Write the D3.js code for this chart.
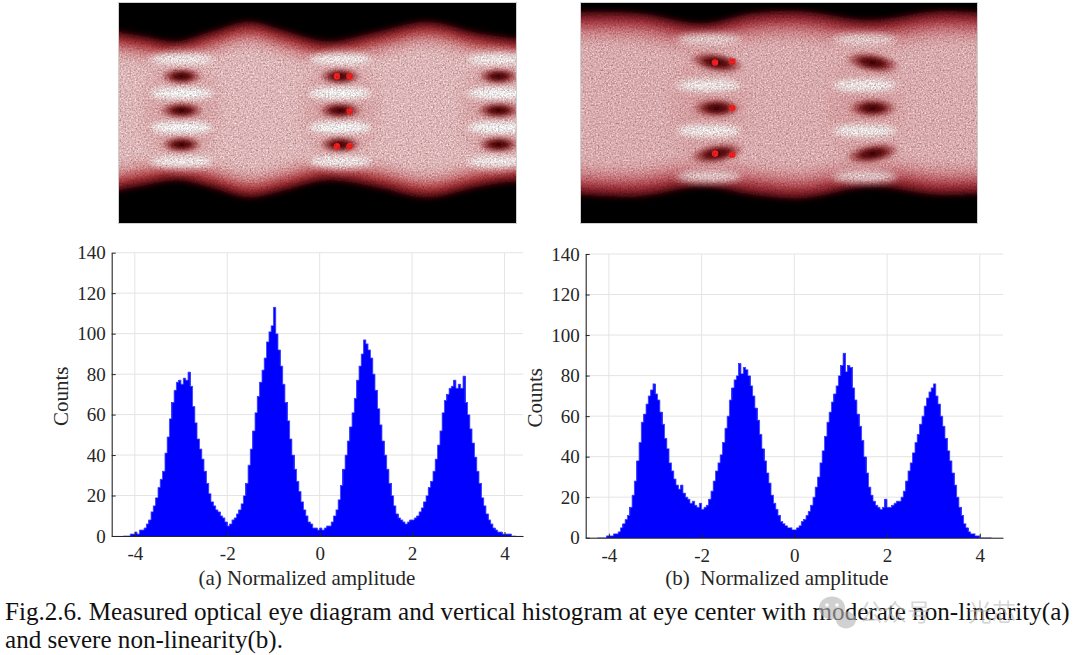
<!DOCTYPE html>
<html>
<head>
<meta charset="utf-8">
<script src="https://cdn.jsdelivr.net/npm/d3@7/dist/d3.min.js"></script>
<style>
  body { margin: 0; background: #fff; }
  svg { display: block; }
  .serif, .tick text { font-family: "Liberation Serif", "Times New Roman", serif; }
</style>
</head>
<body>
<svg id="fig" width="1080" height="655"></svg>
<script>
// histogram bins (normalized amplitude)
var binStart = -4.25,
    binWidth = 0.05;

// counts per bin, panel (a) moderate non-linearity
var countsA = [
  0, 0, 0, 1, 1, 2, 1, 3, 3, 4,
  6, 8, 12, 15, 19, 24, 28, 32, 41, 49,
  58, 66, 72, 76, 77, 75, 78, 77, 81, 74,
  64, 56, 48, 43, 38, 32, 26, 21, 17, 15,
  13, 12, 10, 9, 7, 5, 6, 8, 9, 11,
  13, 16, 20, 26, 35, 43, 52, 61, 69, 76,
  82, 88, 96, 101, 104, 113, 100, 92, 84, 75,
  66, 57, 48, 40, 33, 27, 22, 17, 13, 10,
  7, 6, 4, 4, 3, 4, 3, 4, 5, 5,
  7, 10, 13, 18, 25, 33, 40, 47, 54, 61,
  68, 77, 84, 90, 97, 95, 92, 88, 80, 72,
  63, 55, 47, 40, 33, 26, 20, 15, 11, 9,
  8, 7, 6, 7, 8, 8, 9, 10, 12, 14,
  17, 20, 24, 27, 32, 38, 45, 52, 61, 67,
  70, 73, 74, 77, 73, 75, 73, 79, 66, 60,
  53, 46, 39, 32, 26, 19, 15, 11, 8, 6,
  4, 3, 2, 2, 1, 1, 1, 1, 0, 0
];

// counts per bin, panel (b) severe non-linearity
var countsB = [
  0, 0, 0, 0, 1, 1, 1, 2, 2, 3,
  5, 7, 9, 11, 15, 21, 28, 38, 47, 57,
  61, 66, 70, 73, 76, 71, 68, 62, 56, 49,
  44, 37, 33, 29, 26, 24, 26, 22, 20, 19,
  17, 18, 16, 15, 17, 14, 15, 16, 19, 23,
  28, 33, 37, 41, 47, 54, 60, 68, 74, 78,
  80, 86, 81, 84, 83, 80, 75, 70, 64, 58,
  51, 44, 38, 32, 27, 21, 17, 14, 11, 8,
  7, 6, 5, 5, 4, 4, 5, 6, 8, 9,
  11, 13, 16, 20, 25, 30, 37, 43, 50, 57,
  62, 67, 71, 75, 80, 85, 91, 82, 85, 84,
  74, 68, 61, 55, 48, 40, 32, 25, 21, 18,
  16, 15, 14, 15, 19, 15, 15, 16, 17, 18,
  18, 20, 23, 28, 33, 37, 42, 47, 51, 56,
  60, 65, 69, 72, 74, 76, 70, 66, 60, 55,
  49, 43, 38, 32, 26, 20, 15, 11, 7, 5,
  3, 2, 2, 1, 1, 0, 0, 0, 0, 0
];

var xTicks = [-4, -2, 0, 2, 4];
var yTicks = [0, 20, 40, 60, 80, 100, 120, 140];

// eye diagrams: time in unit intervals (UI), amplitude in PAM4 level units
var levels = [-3, -1, 1, 3];
var thresholds = [-2, 0, 2];
var eyeCentersA = [0, 1, 2];
var eyeCentersB = [0, 1];

// outer envelope of the traces
var envTimeA = [-0.45, -0.23, -0.02, 0.19, 0.44, 0.65, 0.93, 1.24, 1.56, 1.87, 2.08, 2.2];
var envTopA  = [4.7, 4.35, 4.05, 4.6, 5.2, 4.7, 4.05, 4.6, 5.2, 4.55, 4.25, 4.2];
var envBotA  = [-4.8, -4.4, -4.1, -4.5, -5.1, -4.7, -4.1, -4.5, -5.1, -4.5, -4.2, -4.2];

var envTimeB = [-0.95, -0.51, -0.09, 0.23, 0.55, 0.98, 1.41, 1.75];
var envTopB  = [4.2, 4.17, 3.72, 4.17, 4.25, 3.87, 4.25, 4.17];
var envBotB  = [-3.75, -3.88, -3.45, -3.8, -3.96, -3.45, -3.8, -3.74];

// red decision markers
var markersA = [
  {t: 0.99, a: 2}, {t: 1.07, a: 2}, {t: 1.07, a: -0.05},
  {t: 0.99, a: -2.1}, {t: 1.07, a: -2.1}
];
var markersB = [
  {t: -0.01, a: 2.0}, {t: 0.1, a: 2.05}, {t: 0.1, a: 0},
  {t: -0.01, a: -2.0}, {t: 0.1, a: -2.05}
];

var captionLines = [
  "Fig.2.6. Measured optical eye diagram and vertical histogram at eye center with moderate non-linearity(a)",
  "and severe non-linearity(b)."
];

var svg = d3.select("#fig");
var defs = svg.append("defs");
var ink = "#262626";

// ---------- filters ----------
var grain = defs.append("filter").attr("id", "grain")
  .attr("x", 0).attr("y", 0).attr("width", "100%").attr("height", "100%")
  .attr("color-interpolation-filters", "sRGB");
grain.append("feTurbulence").attr("type", "fractalNoise")
  .attr("baseFrequency", 0.6).attr("numOctaves", 2).attr("seed", 7).attr("result", "n");
grain.append("feColorMatrix").attr("in", "n").attr("type", "matrix")
  .attr("values", "0.33 0.33 0.33 0 0  0.4 0.4 0.4 0 -0.04  0.4 0.4 0.4 0 -0.04  0 0 0 0 1")
  .attr("result", "g");
grain.append("feComposite").attr("in", "SourceGraphic").attr("in2", "g")
  .attr("operator", "arithmetic")
  .attr("k1", 1.0).attr("k2", 0.46).attr("k3", 0).attr("k4", 0);

var blurs = {};
function blur(sd) {
  var id = "blur" + String(sd).replace(".", "_");
  if (!blurs[id]) {
    defs.append("filter").attr("id", id)
      .attr("x", "-50%").attr("y", "-100%").attr("width", "200%").attr("height", "300%")
      .append("feGaussianBlur").attr("stdDeviation", sd);
    blurs[id] = true;
  }
  return "url(#" + id + ")";
}

var hole = defs.append("radialGradient").attr("id", "hole");
hole.append("stop").attr("offset", 0).attr("stop-color", "rgb(50,0,0)");
hole.append("stop").attr("offset", 0.4).attr("stop-color", "rgb(110,18,20)");
hole.append("stop").attr("offset", 0.75).attr("stop-color", "rgb(180,85,88)").attr("stop-opacity", 0.7);
hole.append("stop").attr("offset", 1).attr("stop-color", "rgb(215,150,150)").attr("stop-opacity", 0);

var halo = defs.append("radialGradient").attr("id", "halo");
halo.append("stop").attr("offset", 0).attr("stop-color", "rgb(214,138,140)").attr("stop-opacity", 0.85);
halo.append("stop").attr("offset", 0.7).attr("stop-color", "rgb(220,150,152)").attr("stop-opacity", 0.5);
halo.append("stop").attr("offset", 1).attr("stop-color", "rgb(226,165,166)").attr("stop-opacity", 0);

// ---------- eye diagram ----------
function drawEye(p) {
  var t = d3.scaleLinear().domain(p.tDomain).range([p.x0, p.x1]);
  var a = d3.scaleLinear().domain(p.aDomain).range([p.y1, p.y0]);
  var ui = t(1) - t(0), lv = a(0) - a(1);

  defs.append("clipPath").attr("id", "clip" + p.id)
    .append("rect").attr("x", p.x0).attr("y", p.y0)
    .attr("width", p.x1 - p.x0).attr("height", p.y1 - p.y0);

  var outer = svg.append("g").attr("clip-path", "url(#clip" + p.id + ")");
  var g = outer.append("g").attr("filter", "url(#grain)");

  g.append("rect").attr("x", p.x0).attr("y", p.y0)
    .attr("width", p.x1 - p.x0).attr("height", p.y1 - p.y0).attr("fill", "#000");

  var env = p.envTime.map(function(d, i) { return {t: d, top: p.envTop[i], bot: p.envBot[i]}; });
  p.layers.forEach(function(L) {
    var area = d3.area().curve(d3.curveCatmullRom)
      .x(function(d) { return t(d.t); })
      .y0(function(d) { return a(d.bot + L.inset); })
      .y1(function(d) { return a(d.top - L.inset); });
    g.append("path").attr("d", area(env)).attr("fill", L.color).attr("filter", blur(L.blur));
  });

  // pinker zone around each eye
  p.centers.forEach(function(c) {
    g.append("ellipse")
      .attr("cx", t(c + p.bandShift)).attr("cy", a(0))
      .attr("rx", p.haloRx * ui).attr("ry", p.haloRy * lv)
      .attr("fill", "url(#halo)");
  });

  // bright bands at the signal levels
  p.centers.forEach(function(c) {
    levels.forEach(function(l) {
      var outerLvl = Math.abs(l) === 3;
      g.append("ellipse")
        .attr("cx", t(c + p.bandShift)).attr("rx", p.bandHalf * ui)
        .attr("cy", a(l)).attr("ry", p.bandH * lv / 2)
        .attr("fill", outerLvl ? p.bandOuterColor : p.bandColor)
        .attr("filter", blur(p.bandBlur));
    });
  });

  // eye openings at the decision thresholds
  p.centers.forEach(function(c) {
    thresholds.forEach(function(th) {
      var cx = t(c + p.holeShift), cy = a(th);
      var tiltDeg = th === 0 ? 0 : (th > 0 ? p.tilt : -p.tilt);
      g.append("ellipse")
        .attr("cx", cx).attr("cy", cy)
        .attr("rx", (th === 0 ? p.holeRx : p.holeRxOuter) * ui).attr("ry", p.holeRy * lv)
        .attr("transform", "rotate(" + tiltDeg + "," + cx + "," + cy + ")")
        .attr("fill", "url(#hole)")
        .attr("filter", blur(1.5));
    });
  });

  g.selectAll("circle.mk").data(p.markers).enter().append("circle")
    .attr("cx", function(d) { return t(d.t); })
    .attr("cy", function(d) { return a(d.a); })
    .attr("r", 3.3)
    .attr("fill", "rgb(245,30,30)")
    .attr("filter", blur(0.7));

  svg.append("rect").attr("x", p.x0 - 0.5).attr("y", p.y0 - 0.5)
    .attr("width", p.x1 - p.x0 + 1).attr("height", p.y1 - p.y0 + 1)
    .attr("fill", "none").attr("stroke", "#cfcfcf").attr("stroke-width", 1);
}

drawEye({
  id: "A", x0: 119, x1: 516, y0: 3, y1: 223,
  tDomain: [-0.385, 2.12], aDomain: [-6.6, 6.3],
  envTime: envTimeA, envTop: envTopA, envBot: envBotA,
  centers: eyeCentersA, markers: markersA,
  layers: [
    {inset: 0, color: "rgb(112,16,20)", blur: 3},
    {inset: 0.35, color: "rgb(178,58,62)", blur: 3.5},
    {inset: 0.8, color: "rgb(214,128,131)", blur: 4.5},
    {inset: 1.3, color: "rgb(230,178,180)", blur: 6}
  ],
  haloRx: 0.3, haloRy: 4.0,
  bandShift: 0.01, bandHalf: 0.2, bandH: 0.7, bandBlur: 3,
  bandColor: "rgb(250,236,236)", bandOuterColor: "rgb(246,224,224)",
  holeShift: 0.01, holeRx: 0.15, holeRxOuter: 0.14, holeRy: 0.55, tilt: 0
});

drawEye({
  id: "B", x0: 581, x1: 977, y0: 3, y1: 223,
  tDomain: [-0.87, 1.67], aDomain: [-5.05, 4.62],
  envTime: envTimeB, envTop: envTopB, envBot: envBotB,
  centers: eyeCentersB, markers: markersB,
  layers: [
    {inset: 0, color: "rgb(108,14,20)", blur: 3},
    {inset: 0.28, color: "rgb(172,54,60)", blur: 4},
    {inset: 0.65, color: "rgb(208,118,122)", blur: 5.5},
    {inset: 1.1, color: "rgb(226,168,171)", blur: 7}
  ],
  haloRx: 0.32, haloRy: 3.3,
  bandShift: -0.05, bandHalf: 0.21, bandH: 0.55, bandBlur: 3.5,
  bandColor: "rgb(246,226,226)", bandOuterColor: "rgb(234,196,197)",
  holeShift: 0, holeRx: 0.17, holeRxOuter: 0.19, holeRy: 0.48, tilt: 9
});

// ---------- histograms ----------
function drawHist(p) {
  var x = d3.scaleLinear().domain(p.xDomain).range([p.left, p.right]);
  var y = d3.scaleLinear().domain([0, 140]).range([p.bottom, p.top]);
  var g = svg.append("g");

  // grid
  g.selectAll("line.gx").data(xTicks).enter().append("line")
    .attr("x1", x).attr("x2", x).attr("y1", p.top).attr("y2", p.bottom)
    .attr("stroke", "#e4e4e4").attr("stroke-width", 1);
  g.selectAll("line.gy").data(yTicks).enter().append("line")
    .attr("x1", p.left).attr("x2", p.right).attr("y1", y).attr("y2", y)
    .attr("stroke", "#e4e4e4").attr("stroke-width", 1);

  var bins = p.counts.map(function(c, i) {
    return {x0: binStart + i * binWidth, x1: binStart + (i + 1) * binWidth, n: c};
  });

  g.selectAll("rect.bar").data(bins.filter(function(d) { return d.n > 0; }))
    .enter().append("rect")
    .attr("x", function(d) { return x(d.x0) - 0.3; })
    .attr("width", function(d) { return x(d.x1) - x(d.x0) + 0.6; })
    .attr("y", function(d) { return y(d.n); })
    .attr("height", function(d) { return y(0) - y(d.n); })
    .attr("fill", "#0000ff")
    .attr("shape-rendering", "crispEdges");

  var step = [];
  bins.forEach(function(d) { step.push([d.x0, d.n]); step.push([d.x1, d.n]); });
  g.append("path")
    .attr("d", d3.line().x(function(d) { return x(d[0]); }).y(function(d) { return y(d[1]); })(step))
    .attr("fill", "none").attr("stroke", "rgb(100,100,255)").attr("stroke-width", 0.8);

  var fmt = function(d) { return String(d); };
  var ax = svg.append("g").attr("transform", "translate(0," + p.bottom + ")")
    .call(d3.axisBottom(x).tickValues(xTicks).tickFormat(fmt)
      .tickSize(-4).tickSizeOuter(0).tickPadding(11));
  var ay = svg.append("g").attr("transform", "translate(" + p.left + ",0)")
    .call(d3.axisLeft(y).tickValues(yTicks).tickFormat(fmt)
      .tickSize(-4).tickSizeOuter(0).tickPadding(6));
  [ax, ay].forEach(function(s) {
    s.attr("color", ink).attr("font-size", 19)
      .attr("font-family", "'Liberation Serif', 'Times New Roman', serif");
    s.select(".domain").attr("stroke-width", 1.1);
  });

  svg.append("text").attr("class", "serif")
    .attr("transform", "translate(" + p.ylabelX + "," + ((p.top + p.bottom) / 2 + 2) + ") rotate(-90)")
    .attr("text-anchor", "middle").attr("font-size", 21).attr("fill", ink)
    .text("Counts");

  svg.append("text").attr("class", "serif")
    .attr("x", p.xlabelX).attr("y", 585)
    .attr("text-anchor", "middle").attr("font-size", 21).attr("fill", ink)
    .attr("xml:space", "preserve")
    .text(p.xlabel);
}

drawHist({
  counts: countsA, xDomain: [-4.5, 4.4],
  left: 111.7, right: 523, top: 252.7, bottom: 536,
  ylabelX: 68, xlabelX: 307, xlabel: "(a) Normalized amplitude"
});
drawHist({
  counts: countsB, xDomain: [-4.5, 4.5],
  left: 585.7, right: 1003, top: 254, bottom: 537.7,
  ylabelX: 542, xlabelX: 777, xlabel: "(b)  Normalized amplitude"
});

// ---------- caption ----------
var cap = svg.append("g").attr("class", "serif").attr("fill", "#111");
var c1 = cap.append("text").attr("x", 5).attr("y", 620).attr("font-size", 22).text(captionLines[0]);
var fs = 22 * 1065 / c1.node().getComputedTextLength();
c1.attr("font-size", fs);
cap.append("text").attr("x", 5).attr("y", 648).attr("font-size", fs).text(captionLines[1]);

// ---------- watermark (semi-transparent, lies over the caption as in the original) ----------
var wm = svg.append("g").attr("opacity", 0.6);
wm.append("ellipse").attr("cx", 832).attr("cy", 608).attr("rx", 13).attr("ry", 11.5).attr("fill", "#b4b4b4");
wm.append("ellipse").attr("cx", 846).attr("cy", 620).attr("rx", 10).attr("ry", 8.5).attr("fill", "#b4b4b4");
[[827, 605], [837, 605]].forEach(function(e) {
  wm.append("circle").attr("cx", e[0]).attr("cy", e[1]).attr("r", 1.8).attr("fill", "#fff");
});
wm.append("text").attr("x", 859).attr("y", 621)
  .attr("font-family", "'Noto Sans CJK SC', sans-serif").attr("font-size", 24)
  .attr("fill", "#bcbcbc").text("公众号");
wm.append("text").attr("x", 968).attr("y", 621)
  .attr("font-family", "'Noto Sans CJK SC', sans-serif").attr("font-size", 24)
  .attr("fill", "#bcbcbc").text("光芯");
</script>
</body>
</html>
